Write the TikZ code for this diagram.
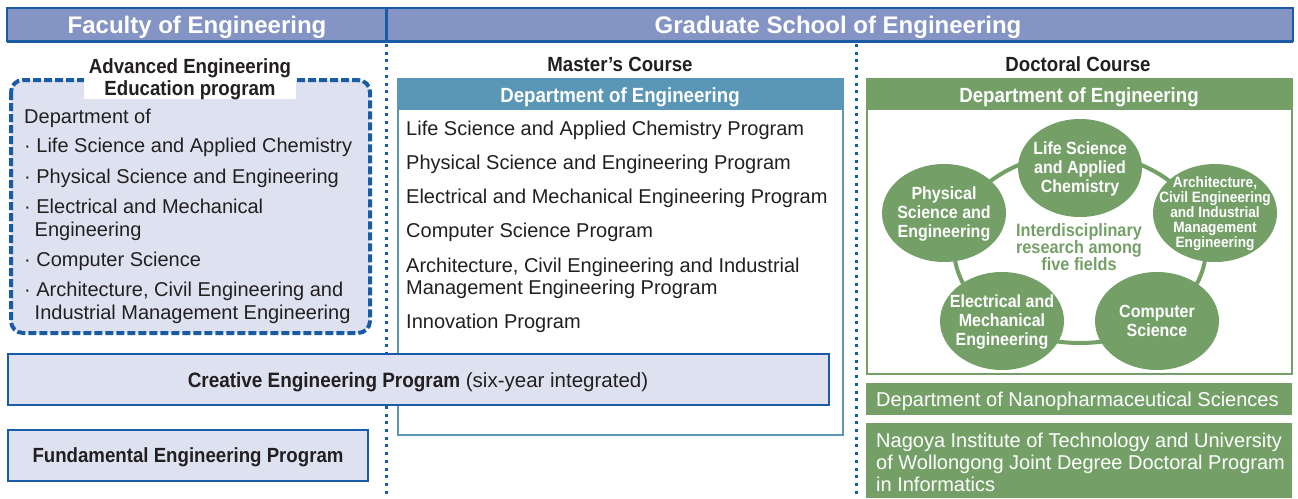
\documentclass[tikz,border=0pt]{standalone}
\usepackage{fontspec}
\setmainfont{Liberation Sans}[BoldFeatures={FakeStretch=0.91}]
\newfontfamily\hdrfont{Liberation Sans}
\usetikzlibrary{shapes.geometric}
\definecolor{hdr}{HTML}{8494C4}
\definecolor{dkblue}{HTML}{1A5BA6}
\definecolor{lav}{HTML}{DEE2F0}
\definecolor{steel}{HTML}{5A96B6}
\definecolor{grn}{HTML}{74A068}
\definecolor{ink}{HTML}{231F20}
\begin{document}
\begin{tikzpicture}[x=1pt,y=-1pt,
  txt/.style={inner sep=0pt, text=ink, anchor=base west, font=\fontsize{20}{23}\selectfont},
  wtxt/.style={inner sep=0pt, text=white, anchor=base west, font=\fontsize{20}{23}\selectfont},
  bld/.style={inner sep=0pt, text=ink, anchor=base, font=\bfseries\fontsize{20.5}{22.5}\selectfont},
  wbld/.style={inner sep=0pt, text=white, anchor=base, font=\bfseries\fontsize{20.5}{22.5}\selectfont},
  hdrtxt/.style={inner sep=0pt, text=white, anchor=base, font=\hdrfont\bfseries\fontsize{24}{26}\selectfont},
  dots/.style={dkblue, line width=3pt, line cap=butt, dash pattern=on 3pt off 4.7pt},
  bluebox/.style={draw=dkblue, line width=1.8pt, fill=lav},
  field/.style={ellipse, fill=grn, minimum width=124pt, minimum height=98pt, inner sep=0pt},
  ftxt/.style={inner sep=0pt, align=center, text=white, font=\bfseries\fontsize{17.6}{19}\selectfont},
]
\useasboundingbox (0,0) rectangle (1298,498);
\fill[white] (0,0) rectangle (1298,498);

% dotted dividers
\coordinate (d1a) at (386.5,44);
\coordinate (d1b) at (386.5,498);
\coordinate (d2a) at (856,44);
\coordinate (d2b) at (856,498);
\draw[dots] (d1a) -- (d1b);
\draw[dots] (d2a) -- (d2b);

% header bars
\draw[draw=dkblue, line width=2pt, fill=hdr] (7,7.5) rectangle (386.5,41);
\draw[draw=dkblue, line width=2pt, fill=hdr] (386.5,7.5) rectangle (1293,41);
\draw[dkblue, line width=3pt] (7,41) -- (1293,41);
\draw[dkblue, line width=3pt] (386.5,7.5) -- (386.5,41);
\node[hdrtxt] (fac) at (197,33) {Faculty of Engineering};
\node[hdrtxt] (grad) at (838,33) {Graduate School of Engineering};

% Advanced engineering education program
\draw[dkblue, line width=4pt, dash pattern=on 8pt off 3pt, fill=lav, rounded corners=12pt] (11,80) rectangle (370,333);
\fill[white] (84,68) rectangle (296,99);
\node[bld] (adv1) at (190,73) {Advanced Engineering};
\node[bld] (adv2) at (190,95.5) {Education program};
\node[txt] (dep) at (24,123) {Department of};
\node[txt] (l1) at (24,152) {· Life Science and Applied Chemistry};
\node[txt] (l2) at (24,183) {· Physical Science and Engineering};
\node[txt] (l3) at (24,213) {· Electrical and Mechanical};
\node[txt] (l3b) at (34.5,236) {Engineering};
\node[txt] (l4) at (24,266) {· Computer Science};
\node[txt] (l5) at (24,296) {· Architecture, Civil Engineering and};
\node[txt] (l5b) at (34.5,319) {Industrial Management Engineering};

% Master's course
\node[bld] (mc) at (620,71) {Master’s Course};
\draw[steel, line width=2pt, fill=white] (398,79) rectangle (843,435);
\fill[steel] (398,79) rectangle (843,110);
\node[wbld] (mdep) at (620,102) {Department of Engineering};
\node[txt] (m1) at (406,135.5) {Life Science and Applied Chemistry Program};
\node[txt] (m2) at (406,169.5) {Physical Science and Engineering Program};
\node[txt] (m3) at (406,203.5) {Electrical and Mechanical Engineering Program};
\node[txt] (m4) at (406,237.5) {Computer Science Program};
\node[txt] (m5) at (406,272) {Architecture, Civil Engineering and Industrial};
\node[txt] (m5b) at (406,294) {Management Engineering Program};
\node[txt] (m6) at (406,328.5) {Innovation Program};

% Creative & Fundamental
\draw[bluebox] (8,354) rectangle (829,405);
\node[inner sep=0pt, anchor=base, text=ink] (cre) at (418,387)
  {\bfseries\fontsize{20.8}{22.5}\selectfont Creative Engineering Program\mdseries\fontsize{20.5}{23}\selectfont{} (six-year integrated)};
\draw[bluebox] (8,430) rectangle (368,481);
\node[bld] (fun) at (188,462.5) {Fundamental Engineering Program};

% Doctoral course
\node[bld] (dc) at (1078,71) {Doctoral Course};
\draw[grn, line width=2.5pt, fill=white] (867,79) rectangle (1292,374);
\fill[grn] (867,79) rectangle (1292,110);
\node[wbld] (ddep) at (1079,102) {Department of Engineering};

\draw[grn, line width=4pt] (1080,248) ellipse [x radius=126pt, y radius=95pt];
\node[field] (c1) at (1080,168) {};
\node[field] (c2) at (944,213) {};
\node[field] (c3) at (1215,213) {};
\node[field] (c4) at (1002,321) {};
\node[field] (c5) at (1157,321) {};
\node[ftxt] (t1) at (1080,169) {Life Science\\and Applied\\Chemistry};
\node[ftxt] (t2) at (944,214) {Physical\\Science and\\Engineering};
\node[ftxt, font=\bfseries\fontsize{15}{15}\selectfont] (t3) at (1215,214) {Architecture,\\Civil Engineering\\and Industrial\\Management\\Engineering};
\node[ftxt] (t4) at (1002,322) {Electrical and\\Mechanical\\Engineering};
\node[ftxt] (t5) at (1157,321) {Computer\\Science};
\node[ftxt, text=grn, font=\bfseries\fontsize{17.9}{17}\selectfont] (t6) at (1079,247.5) {Interdisciplinary\\research among\\five fields};

% Nanopharm & Nagoya
\fill[grn] (866,383) rectangle (1292,415);
\node[wtxt] (nano) at (876,406) {Department of Nanopharmaceutical Sciences};
\fill[grn] (866,423) rectangle (1292,498);
\node[wtxt] (ng1) at (876,447) {Nagoya Institute of Technology and University};
\node[wtxt] (ng2) at (876,469) {of Wollongong Joint Degree Doctoral Program};
\node[wtxt] (ng3) at (876,491) {in Informatics};
\end{tikzpicture}
\end{document}
